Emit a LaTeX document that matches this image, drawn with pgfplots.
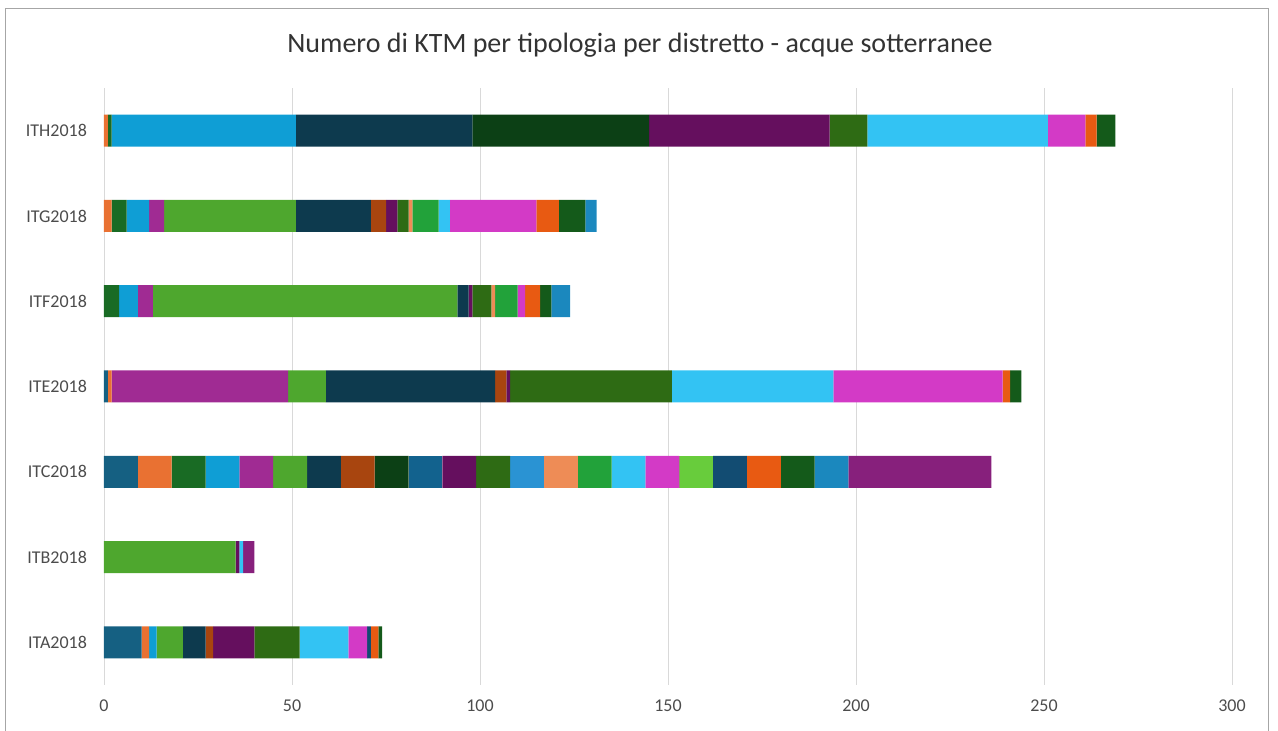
\documentclass[border=0pt]{standalone}
\usepackage{pgfplots}
\pgfplotsset{compat=1.18}
\usepackage{pgfplotstable}
\usepackage{fontspec}
\setmainfont{Carlito}
\definecolor{c1}{HTML}{156082}
\definecolor{c2}{HTML}{E97132}
\definecolor{c3}{HTML}{196B24}
\definecolor{c4}{HTML}{0F9ED5}
\definecolor{c5}{HTML}{A02B93}
\definecolor{c6}{HTML}{4EA72E}
\definecolor{c7}{HTML}{0D3A4E}
\definecolor{c8}{HTML}{A8450F}
\definecolor{c9}{HTML}{0C4015}
\definecolor{c10}{HTML}{12628E}
\definecolor{c11}{HTML}{650F5E}
\definecolor{c12}{HTML}{2E6B14}
\definecolor{c13}{HTML}{2A93D3}
\definecolor{c14}{HTML}{EE8C56}
\definecolor{c15}{HTML}{22A23A}
\definecolor{c16}{HTML}{33C3F3}
\definecolor{c17}{HTML}{D33AC6}
\definecolor{c18}{HTML}{68CC3C}
\definecolor{c19}{HTML}{124C72}
\definecolor{c20}{HTML}{E85A12}
\definecolor{c21}{HTML}{145A1A}
\definecolor{c22}{HTML}{1B88BE}
\definecolor{c23}{HTML}{87207C}
\pgfplotstableread{
y c1 c2 c3 c4 c5 c6 c7 c8 c9 c10 c11 c12 c13 c14 c15 c16 c17 c18 c19 c20 c21 c22 c23
0 10 2 0 2 0 7 6 2 0 0 11 12 0 0 0 13 5 0 1 2 1 0 0
1 0 0 0 0 0 35 0 0 0 0 1 0 0 0 0 1 0 0 0 0 0 0 3
2 9 9 9 9 9 9 9 9 9 9 9 9 9 9 9 9 9 9 9 9 9 9 38
3 1 1 0 0 47 10 45 3 0 0 1 43 0 0 0 43 45 0 0 2 3 0 0
4 0 0 4 5 4 81 3 0 0 0 1 5 0 1 6 0 2 0 0 4 3 5 0
5 0 2 4 6 4 35 20 4 0 0 3 3 0 1 7 3 23 0 0 6 7 3 0
6 0 1 1 49 0 0 47 0 47 0 48 10 0 0 0 48 10 0 0 3 5 0 0
}\datatable
\begin{document}
\begin{tikzpicture}
\useasboundingbox (0,0) rectangle (639pt,365.5pt);
\draw[black!35] (2.5pt,0) -- (2.5pt,361.5pt) -- (634pt,361.5pt) -- (634pt,0);
\node[font=\fontsize{14}{16}\selectfont, text=black!80] at (320pt,343pt) {Numero di KTM per tipologia per distretto - acque sotterranee};
\begin{axis}[
  at={(52pt,23pt)}, anchor=south west, scale only axis,
  width=564pt, height=298.5pt,
  xbar stacked, bar width=16pt,
  xmin=0, xmax=300, ymin=-0.5, ymax=6.5,
  xtick={0,50,...,300}, ytick={0,...,6},
  yticklabels={ITA2018,ITB2018,ITC2018,ITE2018,ITF2018,ITG2018,ITH2018},
  xmajorgrids, major grid style={draw=black!15},
  axis line style={draw=none}, major tick length=0pt,
  tick label style={font=\fontsize{9}{10}\selectfont, text=black!70},
  xticklabel style={yshift=-4pt},
  yticklabel style={xshift=-5pt},
  /pgf/number format/assume math mode=true,
]
\pgfplotsinvokeforeach{1,...,23}{\addplot[fill=c#1, draw=none] table[x=c#1, y=y]{\datatable};}
\end{axis}
\end{tikzpicture}
\end{document}
